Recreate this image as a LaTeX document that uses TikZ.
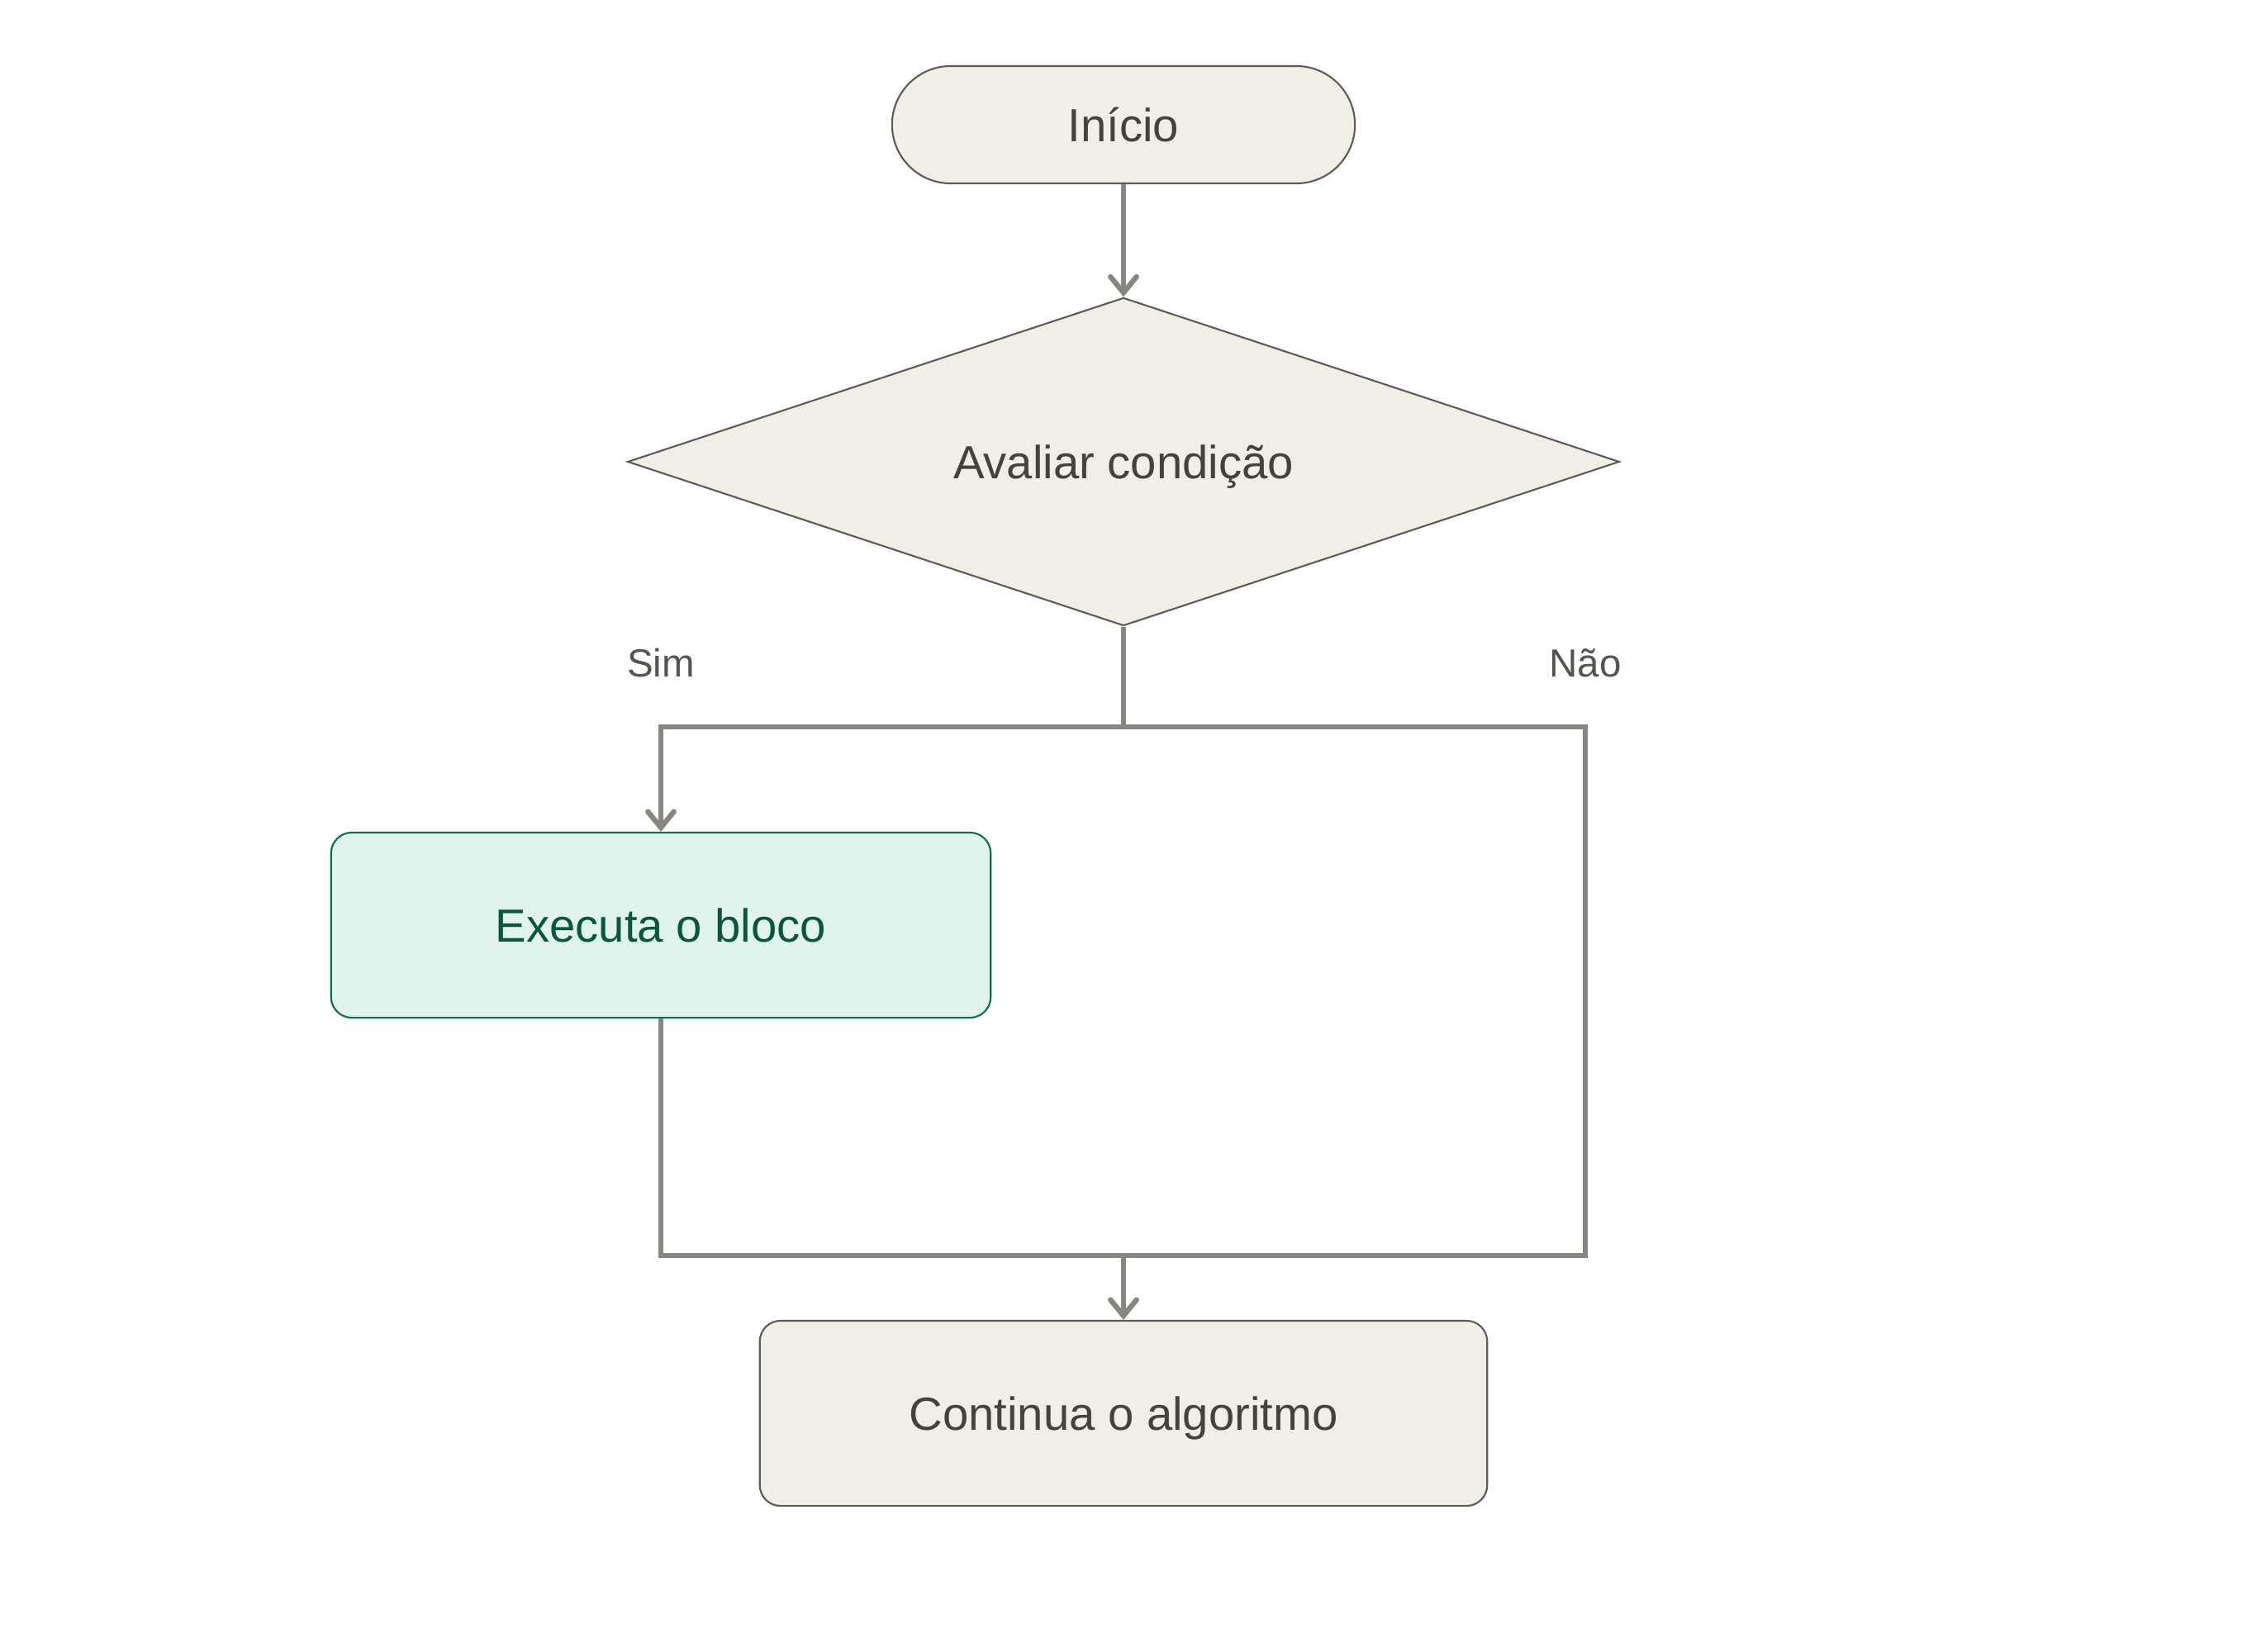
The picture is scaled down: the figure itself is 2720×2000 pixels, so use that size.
\documentclass[tikz,border=0pt]{standalone}
\usepackage{fontspec}
\setmainfont{Liberation Sans}
\usetikzlibrary{shapes.geometric,arrows.meta}
\definecolor{nodefill}{HTML}{F1EEE7}
\definecolor{nodedraw}{HTML}{5C5B56}
\definecolor{nodetext}{HTML}{43423E}
\definecolor{conncol}{HTML}{878681}
\definecolor{greenfill}{HTML}{E0F3EC}
\definecolor{greendraw}{HTML}{0E6B4E}
\definecolor{greentext}{HTML}{0B5540}
\definecolor{labtext}{HTML}{55544F}
\tikzset{
  base/.style={draw=nodedraw, fill=nodefill, text=nodetext, line width=0.6pt, inner sep=0pt,
    font=\fontsize{16}{19}\selectfont, text height=11.5pt, text depth=0pt},
  terminal/.style={base, rectangle, rounded corners=0.71cm, minimum width=5.6cm, minimum height=1.42cm},
  decision/.style={base, diamond, aspect=3.02, minimum width=12cm, minimum height=3.97cm},
  process/.style={base, rectangle, rounded corners=0.25cm, minimum height=2.24cm},
  greenbox/.style={process, draw=greendraw, fill=greenfill, text=greentext},
  conn/.style={draw=conncol, line width=1.8pt},
  arr/.style={conn, -{Straight Barb[length=5.5pt, width=9pt, line cap=round]}},
  lab/.style={text=labtext, font=\fontsize{13.5}{16}\selectfont, inner sep=0pt}
}
\begin{document}
\begin{tikzpicture}[x=0.01cm, y=-0.01cm]
\useasboundingbox (0,0) rectangle (2720,2000);
\node[terminal] (inicio) at (1360,151) {Início};
\node[decision] (dec) at (1360,559) {Avaliar condição};
\node[greenbox, minimum width=7.98cm] (ex) at (800,1120) {Executa o bloco};
\node[process, minimum width=8.8cm] (cont) at (1360,1711) {Continua o algoritmo};
\node[lab] (sim) at (800,803) {Sim};
\node[lab] (nao) at (1919,803) {Não};
\coordinate (split) at (1360,880);
\coordinate (joinR) at (1919,1520);
\coordinate (joinM) at (1360,1520);
\draw[arr] (inicio.south) -- (dec.north);
\draw[conn] (dec.south) -- (split);
\draw[arr] (split) -| (ex.north);
\draw[conn] (split) -| (joinR) -| (ex.south);
\draw[arr] (joinM) -- (cont.north);
\end{tikzpicture}
\end{document}
